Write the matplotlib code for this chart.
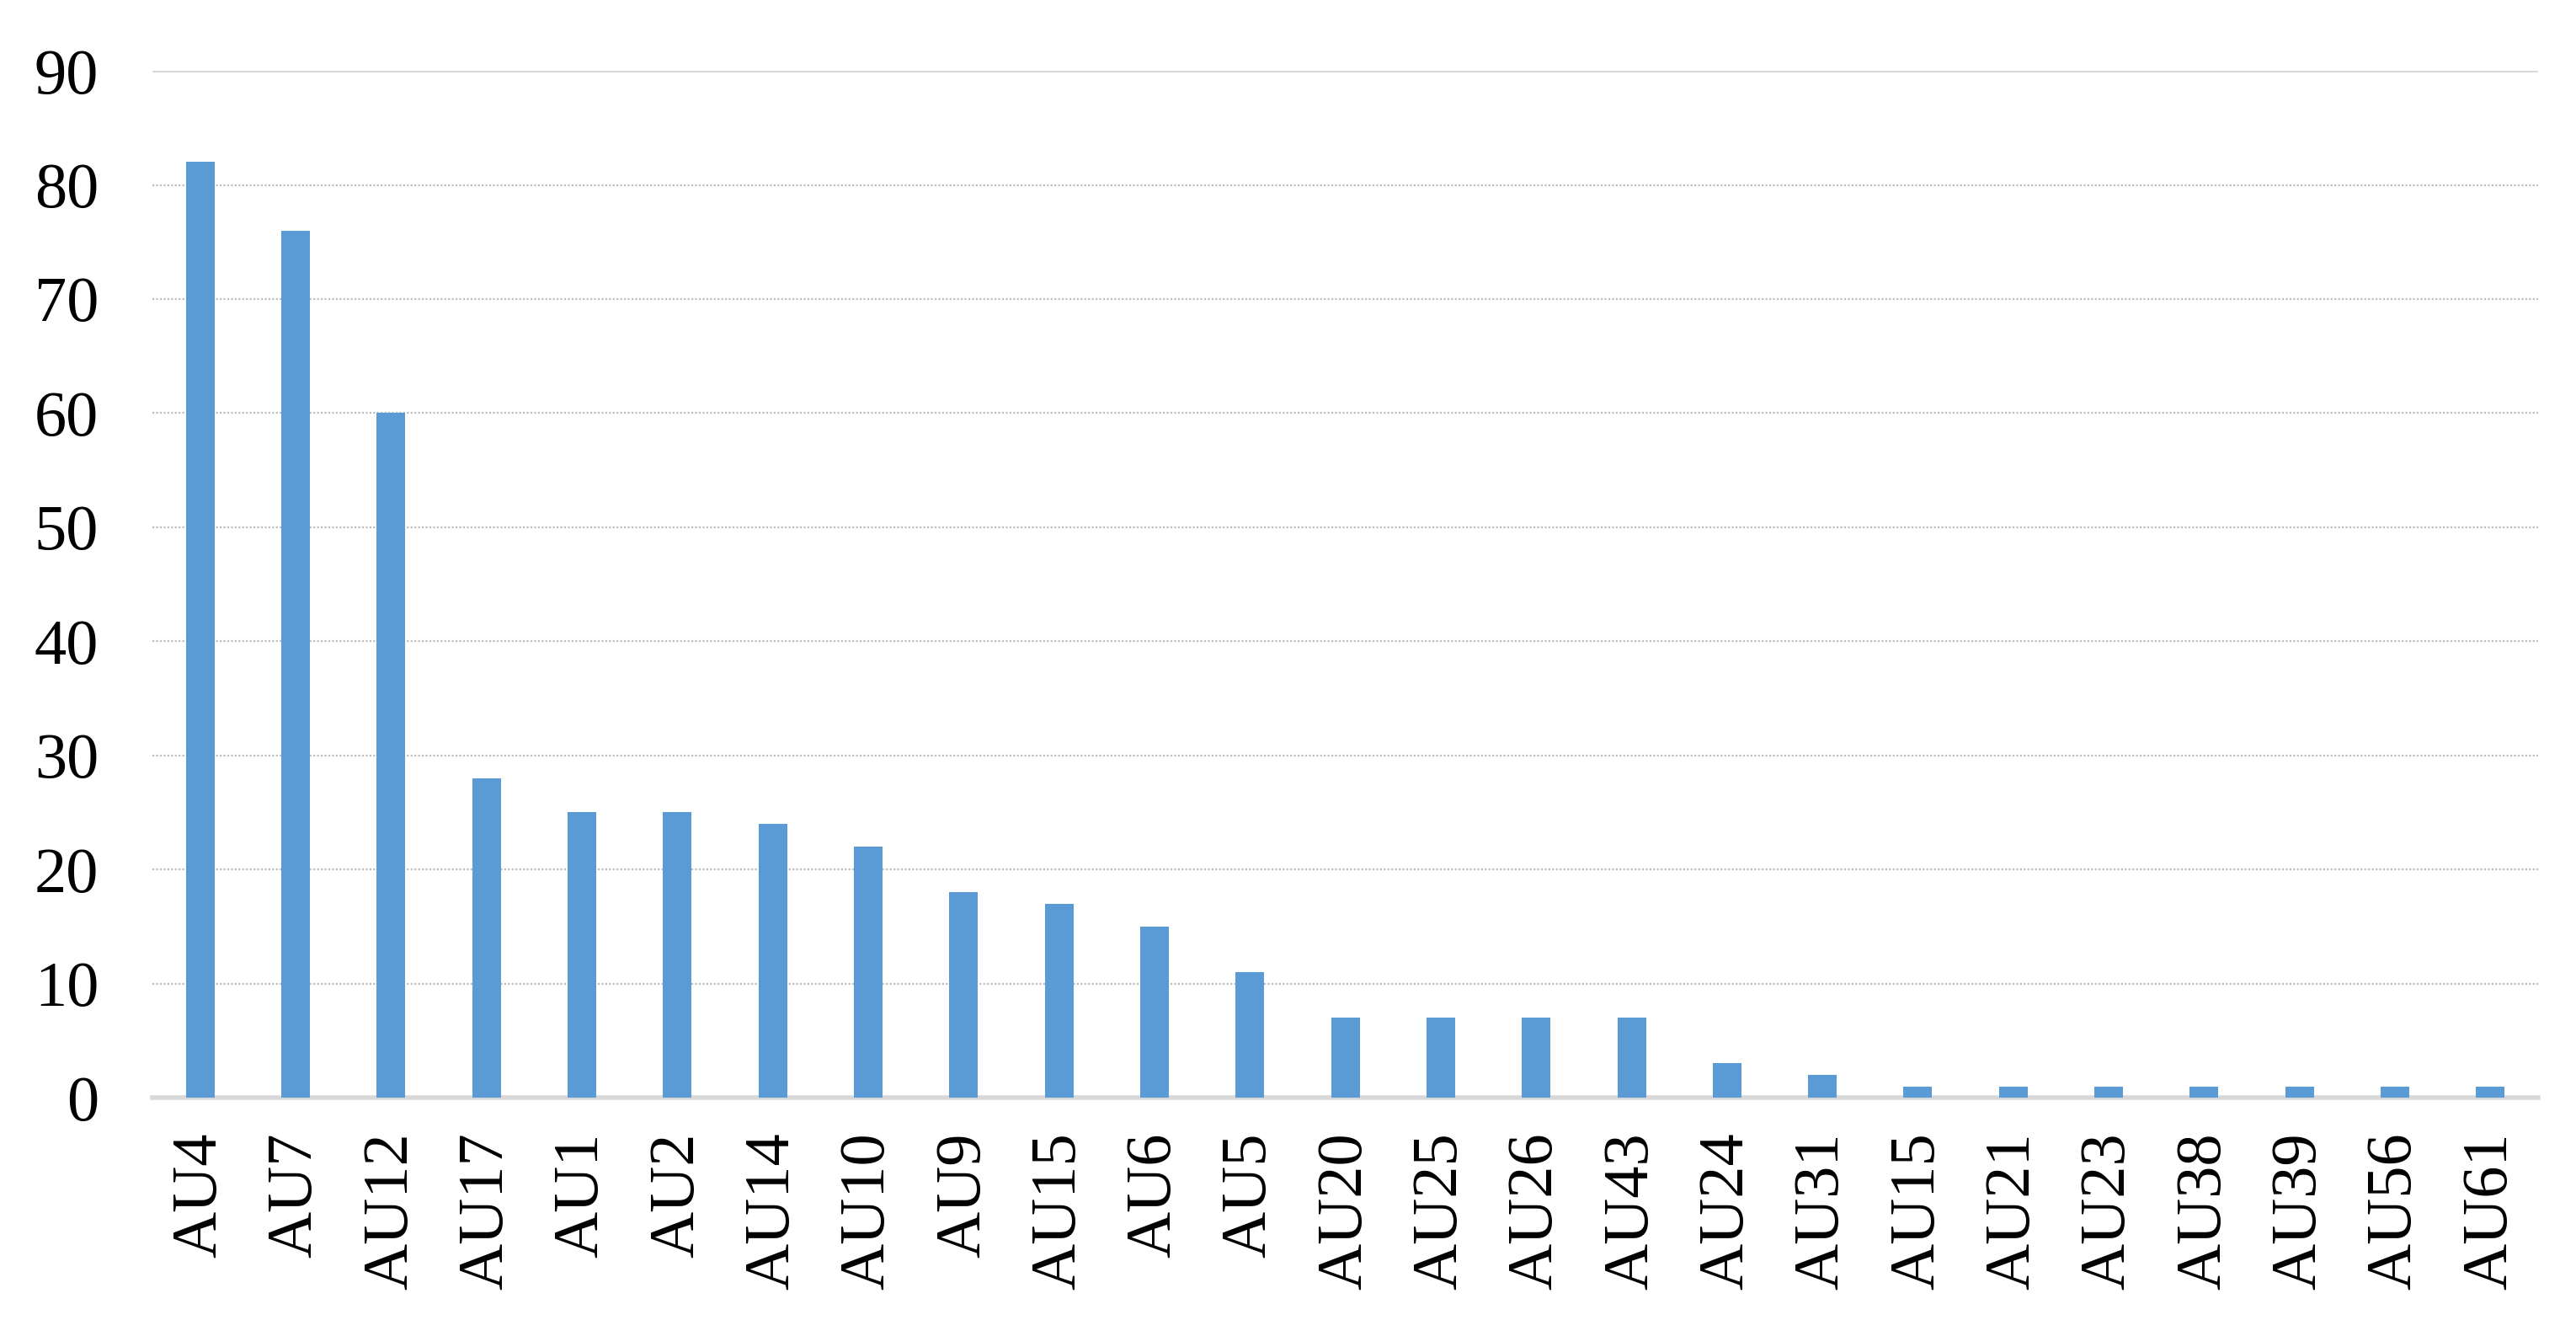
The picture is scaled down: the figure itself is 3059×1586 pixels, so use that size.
import matplotlib.pyplot as plt
import numpy as np

# action units and their counts
units = ['AU4', 'AU7', 'AU12', 'AU17', 'AU1', 'AU2', 'AU14', 'AU10', 'AU9',
         'AU15', 'AU6', 'AU5', 'AU20', 'AU25', 'AU26', 'AU43', 'AU24', 'AU31',
         'AU15', 'AU21', 'AU23', 'AU38', 'AU39', 'AU56', 'AU61']
counts = [82, 76, 60, 28, 25, 25, 24, 22, 18, 17, 15, 11, 7, 7, 7, 7, 3, 2,
          1, 1, 1, 1, 1, 1, 1]
y_ticks = [0, 10, 20, 30, 40, 50, 60, 70, 80, 90]

plt.rcParams['font.family'] = ['Liberation Serif', 'DejaVu Serif']

fig = plt.figure(figsize=(30.59, 15.86), dpi=100)
ax = fig.add_axes([0.0592, 0.1784, 0.9261, 0.7686])

x = np.arange(len(units))

# grid lines: dotted for inner ones, solid for top
for t in y_ticks[1:-1]:
    ax.axhline(t, color='#bdbdbd', lw=1.6, ls=(0, (1, 1)), zorder=0)
ax.axhline(y_ticks[-1], color='#d9d9d9', lw=2.2, zorder=0)

ax.bar(x, counts, width=0.3, color='#5b9bd5', zorder=2)

ax.set_xlim(-0.5, len(units) - 0.5)
ax.set_ylim(0, 90)
ax.set_yticks(y_ticks)
ax.set_xticks(x)
ax.set_xticklabels(units, rotation=90, va='top')

ax.tick_params(axis='both', length=0, labelsize=55)
ax.tick_params(axis='x', pad=30)
ax.tick_params(axis='y', pad=46)

for s in ['top', 'right', 'left']:
    ax.spines[s].set_visible(False)
ax.spines['bottom'].set_color('#d9d9d9')
ax.spines['bottom'].set_linewidth(4)
ax.spines['bottom'].set_zorder(1)

fig.savefig('out.png', dpi=100)
